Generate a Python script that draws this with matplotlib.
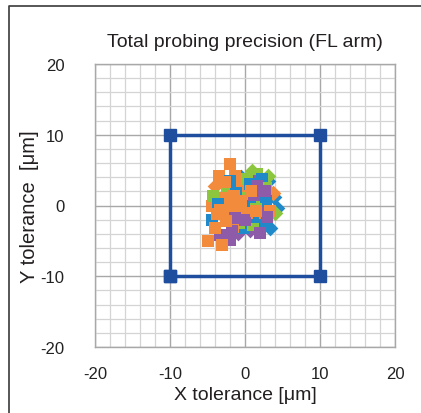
import numpy as np
import matplotlib
matplotlib.use("Agg")
import matplotlib.pyplot as plt
from matplotlib.lines import Line2D

plt.rcParams['font.family'] = ['Liberation Sans', 'DejaVu Sans']
plt.rcParams['axes.unicode_minus'] = False

# tolerance box
box_x = [-10, 10, 10, -10, -10]
box_y = [-10, -10, 10, 10, -10]

# measured deviations (um), per colour, squares / diamonds
blue_sq_x = [-4.4, 2.4, 2.3, 1.3, -2.0, -0.3, 0.0, -1.2, 1.0, 2.8, -3.6, 0.6]
blue_sq_y = [-2.1, -2.8, 3.8, 1.0, 3.4, -3.2, -0.1, 1.8, -1.6, 0.6, 0.2, 3.0]
blue_di_x = [3.3, 4.3, 3.1, 3.8, -0.5]
blue_di_y = [-3.2, -0.4, 3.5, 1.2, 4.0]

orange_sq_x = [-2.0, -3.5, -1.3, -0.8, -3.1, -2.0, -4.4, -2.0, 0.3, -4.0, -1.6, -4.9, -3.1, 3.3,
               -2.7, -3.8, -1.0, -2.6, -0.5, 1.5, -3.3, -1.5, 0.8]
orange_sq_y = [5.8, 4.2, 4.1, 2.8, 1.0, 0.7, -0.1, -1.1, -1.1, -3.2, -3.1, -5.0, -5.6, -0.8,
               3.3, -1.2, -0.1, -2.2, 0.6, -0.8, -0.6, 1.4, 2.0]
orange_di_x = [-4.0, 3.7, 1.8]
orange_di_y = [2.7, 1.7, -1.8]

green_sq_x = [1.6, -2.4, 0.3, 2.3, -2.3, 1.1, -4.3, 2.8, -0.8, 1.4, 0.2]
green_sq_y = [4.5, 2.4, 1.0, 1.0, -1.5, -2.8, 1.4, 2.5, -2.5, -0.5, 3.8]
green_di_x = [0.9, 4.0, 3.0]
green_di_y = [4.9, -1.1, 4.2]

purple_sq_x = [0.7, -0.3, 2.0, 2.0, -3.1, -0.9, -3.3, -2.0, 2.0, 0.0, 2.7, 1.6, -1.3,
               2.9, -1.8, 1.2]
purple_sq_y = [3.4, 2.0, -0.1, -0.8, -0.4, -0.4, -4.2, -4.9, -3.9, -2.1, 2.0, 2.8, -1.8,
               -1.6, -3.6, 1.5]
purple_di_x = [-0.9, 0.6]
purple_di_y = [-3.9, -3.4]

fig = plt.figure(figsize=(4.21, 4.14), dpi=100)
ax = fig.add_axes([95/421, 1-348/414, 300/421, 283/414])

# outer frame: only left and top edges are inside the picture
fx, fy = 8.5/421, 1-6.5/414
fig.add_artist(Line2D([fx, fx, 1.01], [-0.01, fy, fy], transform=fig.transFigure,
                      color='#3a3a3a', linewidth=1.2))

ax.set_xlim(-20, 20)
ax.set_ylim(-20, 20)
ax.set_xticks(np.arange(-20, 21, 10))
ax.set_yticks(np.arange(-20, 21, 10))
ax.set_xticks(np.arange(-20, 21, 2), minor=True)
ax.set_yticks(np.arange(-20, 21, 2), minor=True)
ax.grid(which='minor', color='#d4d4d4', linewidth=0.9)
ax.grid(which='major', color='#a8a8a8', linewidth=1.0)
ax.set_axisbelow(True)
ax.tick_params(which='both', length=0)
ax.tick_params(axis='x', pad=14, labelsize=12, colors='#222222')
ax.tick_params(axis='y', pad=22, labelsize=12, colors='#222222')
for s in ax.spines.values():
    s.set_color('#a8a8a8')
    s.set_linewidth(1.0)

series = [
    ('#2089c9', blue_sq_x, blue_sq_y, blue_di_x, blue_di_y),
    ('#f28b3c', orange_sq_x, orange_sq_y, orange_di_x, orange_di_y),
    ('#8cc63f', green_sq_x, green_sq_y, green_di_x, green_di_y),
    ('#8e5ba8', purple_sq_x, purple_sq_y, purple_di_x, purple_di_y),
]
# interleave the colours so no single series sits on top of everything
order = [0, 1, 2, 3]
for c, sx, sy, dx, dy in series:
    ax.scatter(dx, dy, marker='D', s=64, color=c, linewidths=0, zorder=3)
n = max(len(s[1]) for s in series)
for i in range(n):
    for k in order:
        c, sx, sy = series[k][:3]
        if i < len(sx):
            ax.scatter(sx[i], sy[i], marker='s', s=64, color=c, linewidths=0, zorder=3)

ax.plot(box_x, box_y, color='#1f4e9e', linewidth=2.5, marker='s', markersize=8,
        zorder=4, solid_joinstyle='miter')

ax.set_title('Total probing precision (FL arm)', fontsize=14, color='#231f20', pad=13)
ax.set_xlabel('X tolerance [\u03bcm]', fontsize=14, color='#231f20', labelpad=3)
ax.set_ylabel('Y tolerance  [\u03bcm]', fontsize=14.5, color='#231f20', labelpad=1)

fig.savefig('out.png', dpi=100)
